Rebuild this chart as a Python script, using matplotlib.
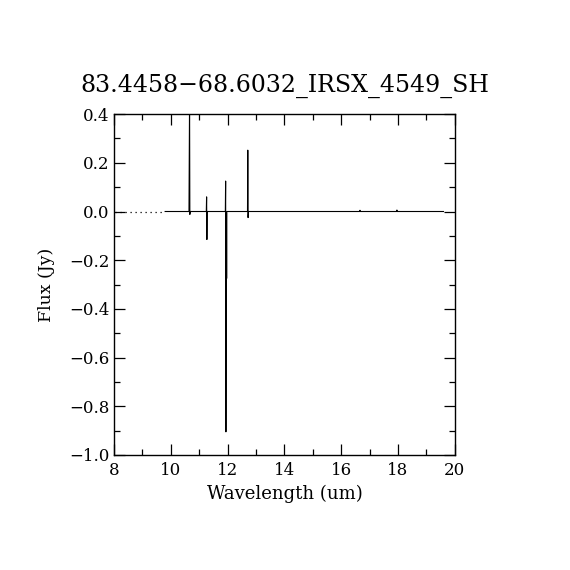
import matplotlib
matplotlib.use("Agg")
import matplotlib.pyplot as plt
from matplotlib.ticker import MultipleLocator

title = "83.4458\u221268.6032_IRSX_4549_SH"
xlabel = "Wavelength (um)"
ylabel = "Flux (Jy)"

# dotted (no-data) segment
wl_dot = [8.05, 9.8]
fx_dot = [0.0, 0.0]

# solid spectrum
wl = [9.8, 10.64, 10.66, 10.67, 10.68, 11.25, 11.26, 11.27, 11.28,
      11.92, 11.93, 11.94, 11.95, 11.96, 11.965, 11.97, 12.70, 12.71, 12.72, 12.73,
      16.65, 16.66, 16.67, 17.95, 17.96, 17.97, 19.6]
fx = [0.0, 0.0, 0.45, -0.012, 0.0, 0.0, 0.06, -0.115, 0.0,
      0.0, 0.125, -0.905, -0.275, -0.005, -0.275, 0.0, 0.0, 0.252, -0.025, 0.0,
      0.0, 0.005, 0.0, 0.0, 0.006, 0.0, 0.0]

plt.rcParams['font.family'] = ['DejaVu Serif']
fig = plt.figure(figsize=(5.7, 5.7), dpi=100)
ax = fig.add_axes([0.2, 0.2018, 0.598, 0.598])
ax.plot(wl_dot, fx_dot, color='black', lw=0.9, ls=(0, (1, 3)))
ax.plot(wl, fx, color='black', lw=0.8)
ax.set_xlim(8, 20)
ax.set_ylim(-1.0, 0.4)
ax.xaxis.set_major_locator(MultipleLocator(2))
ax.xaxis.set_minor_locator(MultipleLocator(1))
ax.yaxis.set_major_locator(MultipleLocator(0.2))
ax.yaxis.set_minor_locator(MultipleLocator(0.1))
ax.tick_params(which='both', direction='in', top=True, right=True, labelsize=12, width=0.9)
ax.tick_params(which='major', length=8)
ax.tick_params(which='minor', length=4)
ax.tick_params(axis='x', pad=5)
ax.yaxis.set_major_formatter(matplotlib.ticker.FuncFormatter(lambda v, p: f"{v:.1f}".replace("-", "\u2212")))
for s in ax.spines.values():
    s.set_linewidth(1.0)
ax.set_xlabel(xlabel, fontsize=13, labelpad=4)
ax.set_ylabel(ylabel, fontsize=12.5, labelpad=10)
ax.set_title(title, fontsize=17, pad=16)
fig.savefig("out.png", dpi=100, facecolor='white')
